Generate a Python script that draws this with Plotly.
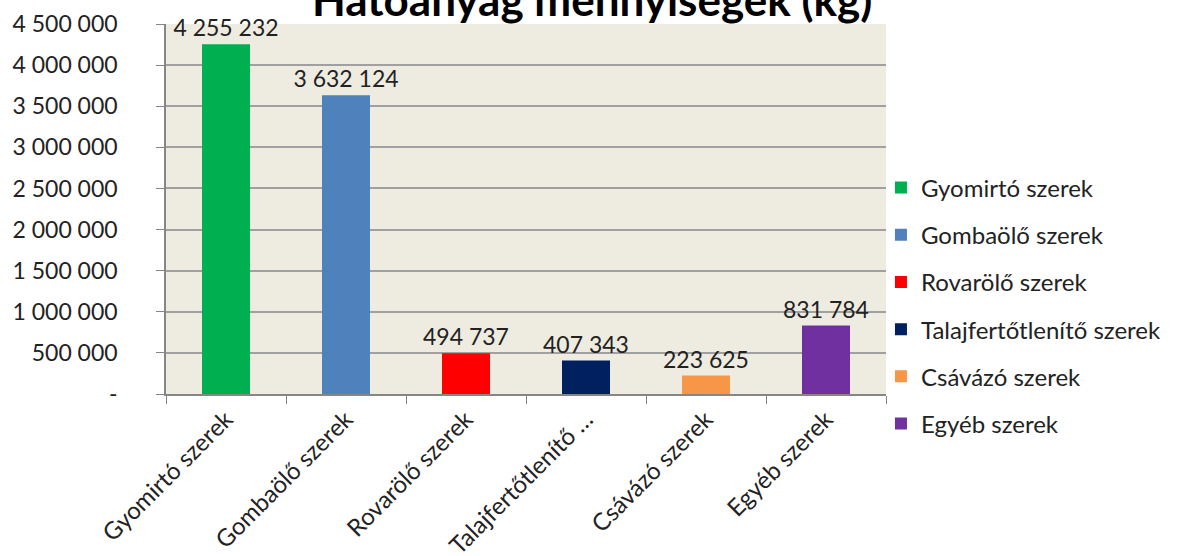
import plotly.graph_objects as go

categories = ["Gyomirtó szerek", "Gombaölő szerek", "Rovarölő szerek",
              "Talajfertőtlenítő szerek", "Csávázó szerek", "Egyéb szerek"]
tick_labels = ["Gyomirtó szerek", "Gombaölő szerek", "Rovarölő szerek",
               "Talajfertőtlenítő …", "Csávázó szerek", "Egyéb szerek"]
values = [4255232, 3632124, 494737, 407343, 223625, 831784]
colors = ["#00B050", "#4F81BD", "#FF0000", "#002060", "#F79646", "#7030A0"]
y_tickvals = [0, 500000, 1000000, 1500000, 2000000, 2500000, 3000000, 3500000, 4000000, 4500000]
y_ticktext = ["-", "500 000", "1 000 000", "1 500 000", "2 000 000", "2 500 000",
              "3 000 000", "3 500 000", "4 000 000", "4 500 000"]
title_text = "Hatóanyag mennyiségek (kg)"

def fmt(v):
    return f"{v:,}".replace(",", " ")

FONT = "Lato"
fig = go.Figure()
for cat, lab, v, c in zip(categories, tick_labels, values, colors):
    fig.add_trace(go.Bar(
        x=[lab], y=[v], name=cat, marker=dict(color=c, line=dict(width=0)),
        width=0.4, text=[fmt(v)], textposition="outside", constraintext="none",
        textfont=dict(family=FONT, size=23, color="#222222"),
        cliponaxis=False, legendgroup=cat,
    ))

fig.update_layout(
    width=1177, height=556,
    margin=dict(l=166, r=291, t=24, b=162, autoexpand=False),
    paper_bgcolor="white", plot_bgcolor="#EEECE1",
    barmode="overlay",
    font=dict(family=FONT, size=23, color="#222222"),
    showlegend=True,
    legend=dict(x=0.993, y=0.238, yanchor="middle", xanchor="left",
                font=dict(family=FONT, size=24, color="#222222"),
                tracegroupgap=13, bgcolor="rgba(0,0,0,0)"),
)
fig.update_xaxes(
    type="category", categoryorder="array", categoryarray=tick_labels,
    tickson="boundaries", ticks="outside", ticklen=8, tickcolor="#868686",
    showline=True, linecolor="#868686", linewidth=1.5, automargin=False,
    tickangle=-45, tickfont=dict(family=FONT, size=24, color="#222222"),
    showgrid=False,
)
fig.update_yaxes(
    range=[0, 4500000], tickvals=y_tickvals, ticktext=y_ticktext,
    ticks="outside", ticklen=8, tickcolor="#868686", automargin=False,
    showline=True, linecolor="#868686", linewidth=1.5,
    gridcolor="#A0A0A0", gridwidth=1.5, ticklabelstandoff=34,
    tickfont=dict(family=FONT, size=23, color="#222222"), zeroline=False,
)
fig.add_annotation(
    text="<b>" + title_text + "</b>", xref="paper", yref="paper",
    x=0.592, y=1, xanchor="center", yanchor="bottom", yshift=-3, showarrow=False,
    font=dict(family=FONT, size=44, color="#000000"),
)
fig.write_html("out.html", config={"displayModeBar": False},
               post_script="document.body.style.margin='0';")
